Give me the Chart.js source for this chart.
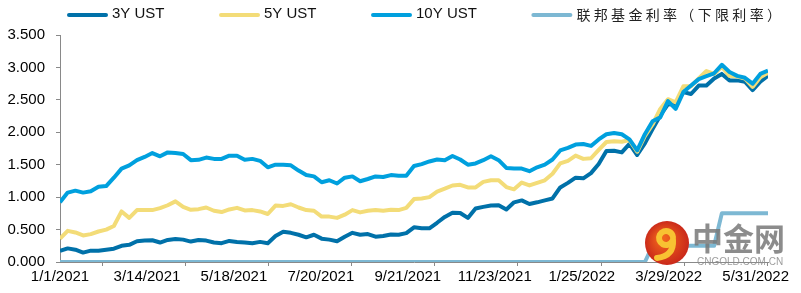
<!DOCTYPE html>
<html>
<head>
<meta charset="utf-8">
<script src="https://cdn.jsdelivr.net/npm/chart.js@4.4.1/dist/chart.umd.min.js"></script>
<style>
  html, body { margin: 0; padding: 0; background: #fff; }
</style>
</head>
<body>
<canvas id="yieldChart" width="801" height="293"></canvas>
<script>
// ---- DATA (one sample every 4 trading days, 1/1/2021 -> 5/31/2022) ----
const tickDates = ["1/1/2021", "3/14/2021", "5/18/2021", "7/20/2021", "9/21/2021",
                   "11/23/2021", "1/25/2022", "3/29/2022", "5/31/2022"];
const yTicks = [0, 0.5, 1, 1.5, 2, 2.5, 3, 3.5];
const seriesNames = ["3Y UST", "5Y UST", "10Y UST", "联邦基金利率（下限利率）"];

const ust3y = [
  0.17, 0.21, 0.19, 0.145, 0.175, 0.175, 0.19, 0.205, 0.25, 0.265,
  0.32, 0.33, 0.335, 0.30, 0.34, 0.355, 0.345, 0.315, 0.34, 0.33,
  0.30, 0.29, 0.325, 0.31, 0.30, 0.29, 0.31, 0.29, 0.40, 0.465,
  0.45, 0.42, 0.38, 0.42, 0.36, 0.345, 0.32, 0.39, 0.45, 0.42,
  0.43, 0.39, 0.40, 0.425, 0.42, 0.445, 0.535, 0.52, 0.52, 0.605,
  0.695, 0.76, 0.755, 0.68, 0.825, 0.85, 0.87, 0.875, 0.81, 0.92,
  0.95, 0.895, 0.92, 0.95, 0.98, 1.15, 1.22, 1.30, 1.29, 1.37,
  1.51, 1.71, 1.715, 1.69, 1.82, 1.65, 1.83, 2.05, 2.26, 2.43,
  2.44, 2.62, 2.59, 2.72, 2.72, 2.83, 2.90, 2.80, 2.80, 2.78,
  2.65, 2.78, 2.87
];

const ust5y = [
  0.36, 0.48, 0.455, 0.41, 0.43, 0.47, 0.50, 0.555, 0.78, 0.68,
  0.80, 0.80, 0.80, 0.83, 0.875, 0.935, 0.85, 0.805, 0.815, 0.84,
  0.79, 0.77, 0.81, 0.835, 0.795, 0.80, 0.78, 0.74, 0.87, 0.865,
  0.89, 0.84, 0.80, 0.79, 0.70, 0.70, 0.68, 0.73, 0.80, 0.765,
  0.79, 0.80, 0.79, 0.805, 0.80, 0.835, 0.97, 0.98, 1.00, 1.085,
  1.13, 1.18, 1.19, 1.15, 1.15, 1.235, 1.26, 1.26, 1.155, 1.12,
  1.225, 1.18, 1.22, 1.26, 1.36, 1.52, 1.56, 1.64, 1.59, 1.60,
  1.73, 1.85, 1.86, 1.855, 1.88, 1.70, 1.94, 2.12, 2.36, 2.51,
  2.46, 2.71, 2.71, 2.83, 2.945, 2.90, 3.01, 2.87, 2.86, 2.83,
  2.70, 2.85, 2.92
];

const ust10y = [
  0.92, 1.07, 1.10, 1.07, 1.09, 1.16, 1.17, 1.30, 1.44, 1.49,
  1.57, 1.62, 1.68, 1.63, 1.69, 1.68, 1.665, 1.57, 1.575, 1.61,
  1.59, 1.59, 1.64, 1.64, 1.575, 1.59, 1.56, 1.46, 1.50, 1.50,
  1.49, 1.41, 1.34, 1.32, 1.23, 1.26, 1.21, 1.30, 1.32, 1.245,
  1.28, 1.32, 1.31, 1.34, 1.33, 1.33, 1.48, 1.51, 1.55, 1.58,
  1.57, 1.635, 1.58, 1.50, 1.52, 1.57, 1.63, 1.57, 1.45, 1.44,
  1.44, 1.40, 1.46, 1.50, 1.58, 1.72, 1.76, 1.81, 1.82, 1.79,
  1.89, 1.97, 1.99, 1.97, 1.89, 1.72, 1.97, 2.17, 2.23, 2.48,
  2.36, 2.62, 2.72, 2.82, 2.865, 2.91, 3.04, 2.93, 2.87, 2.84,
  2.75, 2.90, 2.95
];

const fedLower = [
  0, 0, 0, 0, 0, 0, 0, 0, 0, 0,
  0, 0, 0, 0, 0, 0, 0, 0, 0, 0,
  0, 0, 0, 0, 0, 0, 0, 0, 0, 0,
  0, 0, 0, 0, 0, 0, 0, 0, 0, 0,
  0, 0, 0, 0, 0, 0, 0, 0, 0, 0,
  0, 0, 0, 0, 0, 0, 0, 0, 0, 0,
  0, 0, 0, 0, 0, 0, 0, 0, 0, 0,
  0, 0, 0, 0, 0, 0, 0, 0.25, 0.25, 0.25,
  0.25, 0.25, 0.25, 0.25, 0.25, 0.25, 0.75, 0.75, 0.75, 0.75,
  0.75, 0.75, 0.75
];

// ---- AXIS LAYOUT (in trading-day units) ----
const SAMPLE_STEP = 4;
const X_MAX = 368;
const LABEL_STEP = 45.2;
const MARK_START = 22;
const MARK_STEP = 43.2;

const colors = ["#0071A9", "#F3DC78", "#00A0DE", "#7DB8D3"];
const AXIS_GRAY = "#898989";
const FONT = '"Liberation Sans", Arial, sans-serif';

function toPoints(values) {
  return values.map((v, i) => ({ x: i * SAMPLE_STEP, y: v }));
}

// x ticks: labelled ticks + separate tick marks (Excel style)
const xTicks = [];
tickDates.forEach((d, i) => xTicks.push({ value: i * LABEL_STEP, text: d }));
for (let i = 0; i < 9; i++) xTicks.push({ value: MARK_START + i * MARK_STEP, text: "", mark: true });
xTicks.sort((a, b) => a.value - b.value);

// ---- LEGEND DRAWN BY HAND (Excel look) ----
const manualLegend = {
  id: "manualLegend",
  afterDraw(chart) {
    const ctx = chart.ctx;
    let x = 67;
    chart.data.datasets.forEach((ds, i) => {
      ctx.save();
      ctx.strokeStyle = ds.borderColor;
      ctx.lineWidth = 4;
      ctx.lineCap = "round";
      ctx.beginPath();
      ctx.moveTo(x + 2, 15);
      ctx.lineTo(x + 39, 15);
      ctx.stroke();

      const tx = x + 45;
      let w;
      ctx.textBaseline = "middle";
      if (i === 3) {
        // chinese label, wide character spacing
        ctx.font = '14px "Noto Sans CJK SC"';
        ctx.fillStyle = "#222";
        const chars = Array.from(ds.label);
        chars.forEach((c, j) => ctx.fillText(c, tx + j * 17.33, 15));
        w = chars.length * 17.33;
      } else {
        ctx.font = "15px " + FONT;
        ctx.fillStyle = "#111";
        ctx.fillText(ds.label, tx, 14);
        w = ctx.measureText(ds.label).width;
      }
      ctx.restore();
      x = tx + w + 54.5;
    });
  }
};

// ---- WATERMARK ----
const watermark = {
  id: "watermark",
  afterDraw(chart) {
    const ctx = chart.ctx;
    ctx.save();
    const g = ctx.createRadialGradient(662, 238, 3, 667, 243, 23);
    g.addColorStop(0, "#F0641C");
    g.addColorStop(1, "#C8261A");
    ctx.fillStyle = g;
    ctx.beginPath();
    ctx.arc(667, 243, 22, 0, Math.PI * 2);
    ctx.fill();

    ctx.strokeStyle = "#F8C232";
    ctx.lineWidth = 6;
    ctx.lineCap = "round";
    ctx.beginPath();
    ctx.arc(666, 238, 7, Math.PI * 0.15, Math.PI * 1.95);
    ctx.stroke();
    ctx.beginPath();
    ctx.moveTo(673, 240);
    ctx.quadraticCurveTo(674, 256, 657, 258);
    ctx.stroke();

    ctx.fillStyle = "rgba(120,120,120,0.85)";
    ctx.font = 'bold 31px "Noto Sans CJK SC"';
    ctx.textBaseline = "alphabetic";
    ctx.fillText("中金网", 692, 250);

    ctx.fillStyle = "rgba(140,140,140,0.85)";
    ctx.font = "10px " + FONT;
    ctx.textBaseline = "middle";
    ctx.fillText("CNGOLD.COM.CN", 697, 262);
    ctx.restore();
  }
};

const canvas = document.getElementById("yieldChart");

const chart = new Chart(canvas, {
  type: "line",
  data: {
    datasets: [
      { label: seriesNames[0], data: toPoints(ust3y), borderColor: colors[0], order: 4 },
      { label: seriesNames[1], data: toPoints(ust5y), borderColor: colors[1], order: 3 },
      { label: seriesNames[2], data: toPoints(ust10y), borderColor: colors[2], order: 2 },
      { label: seriesNames[3], data: toPoints(fedLower), borderColor: colors[3], order: 1 }
    ]
  },
  options: {
    responsive: false,
    animation: false,
    layout: { padding: { top: 35, right: 33, left: 0, bottom: 0 } },
    elements: {
      line: { borderWidth: 4, tension: 0, fill: false, borderJoinStyle: "round" },
      point: { radius: 0, hoverRadius: 0 }
    },
    plugins: {
      legend: { display: false },
      tooltip: { enabled: false }
    },
    scales: {
      x: {
        type: "linear",
        min: 0,
        max: X_MAX,
        afterBuildTicks(scale) {
          scale.ticks = xTicks.map(t => ({ value: t.value, text: t.text, mark: !!t.mark }));
        },
        afterFit(scale) { scale.height = 31; },
        ticks: {
          autoSkip: false,
          maxRotation: 0,
          minRotation: 0,
          padding: 2,
          color: "#000",
          font: { family: FONT, size: 15 },
          callback: (value, index, ticks) => ticks[index].text
        },
        grid: {
          drawOnChartArea: false,
          drawTicks: true,
          tickLength: 4,
          tickWidth: 1,
          tickColor: ctx => (ctx.tick && ctx.tick.mark) ? AXIS_GRAY : "rgba(0,0,0,0)"
        },
        border: { color: AXIS_GRAY, width: 1 }
      },
      y: {
        min: 0,
        max: 3.5,
        afterBuildTicks(scale) {
          scale.ticks = yTicks.map(v => ({ value: v }));
        },
        afterFit(scale) { scale.width = 60; },
        ticks: {
          padding: 11,
          color: "#000",
          font: { family: FONT, size: 15 },
          callback: v => v.toFixed(3)
        },
        grid: {
          drawOnChartArea: false,
          drawTicks: true,
          tickLength: 4,
          tickColor: AXIS_GRAY
        },
        border: { color: AXIS_GRAY, width: 1 }
      }
    }
  },
  plugins: [manualLegend, watermark]
});
</script>
</body>
</html>
